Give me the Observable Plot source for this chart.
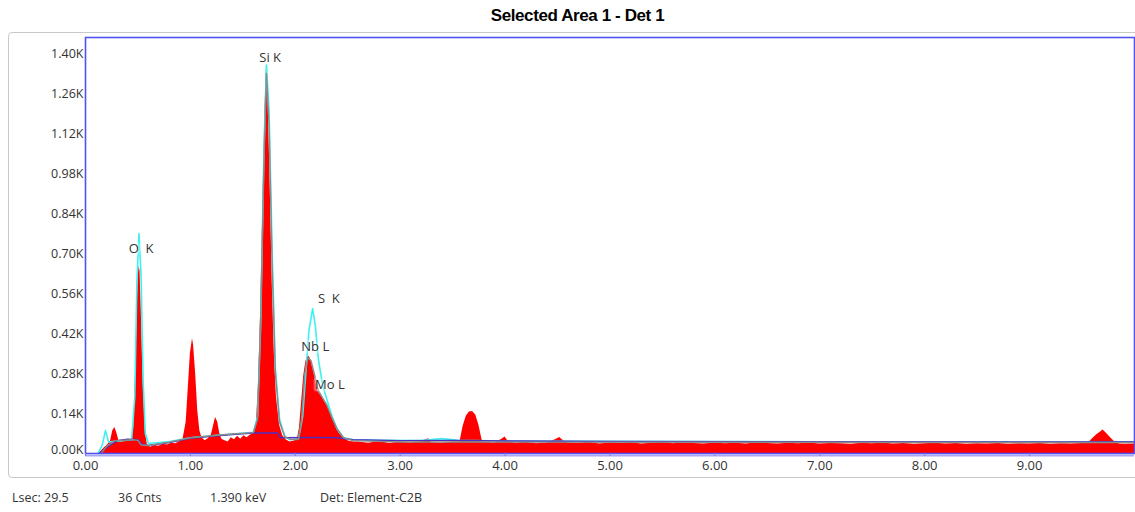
<!DOCTYPE html>
<html>
<head>
<meta charset="utf-8">
<script src="https://cdn.jsdelivr.net/npm/d3@7"></script>
<script src="https://cdn.jsdelivr.net/npm/@observablehq/plot@0.6"></script>
<style>
  html, body { margin: 0; padding: 0; background: #fff; width: 1135px; height: 512px; overflow: hidden; }
  #title { height: 30px; line-height: 31px; text-align: center; font-family: "Liberation Sans", Arial, sans-serif; font-weight: bold; font-size: 17px; letter-spacing: -0.4px; color: #000; padding-left: 20px; }
  #wrap { position: relative; width: 1135px; height: 452px; }
  #outer { position: absolute; left: 8px; top: 2px; width: 1140px; height: 446px; border: 1.5px solid #c8c8c8; border-radius: 4px; box-sizing: border-box; }
  #chart { position: absolute; left: 0; top: 0; }
  #footer { position: relative; height: 30px; font-family: "Open Sans", sans-serif; font-size: 12.5px; color: #333; }
  #footer span { position: absolute; top: 7px; }
</style>
</head>
<body>
<div id="title">Selected Area 1 - Det 1</div>
<div id="wrap"><div id="outer"></div><div id="chart"></div></div>
<div id="footer">
  <span style="left:12px">Lsec: 29.5</span>
  <span style="left:118px">36 Cnts</span>
  <span style="left:210px">1.390 keV</span>
  <span style="left:320px">Det: Element-C2B</span>
</div>
<script>
// ---- Data ----
const spectrumKeV = [
  0.00,0.12,0.15,0.18,0.21,0.24,0.26,0.28,0.30,0.32,0.35,0.38,0.41,0.44,0.46,0.48,0.50,0.51,0.52,0.53,0.55,0.57,0.59,
  0.62,0.66,0.70,0.74,0.78,0.82,0.86,0.90,0.93,0.96,0.98,1.00,1.02,1.03,1.05,1.07,1.09,1.11,1.14,1.17,1.20,1.22,1.24,
  1.26,1.28,1.30,1.33,1.36,1.39,1.42,1.45,1.48,1.51,1.54,1.57,1.60,1.63,1.65,1.67,1.69,1.71,1.725,1.74,1.76,1.78,1.80,
  1.82,1.85,1.88,1.91,1.95,1.99,2.02,2.04,2.06,2.08,2.10,2.12,2.14,2.16,2.18,2.20,2.22,2.24,2.26,2.28,2.30,2.33,2.36,
  2.39,2.42,2.45,2.48,2.52,2.56,
  2.6,2.7,2.8,2.9,3.0,3.1,3.2,3.27,3.3,3.4,3.5,3.57,3.6,3.63,3.66,3.69,3.72,3.75,3.78,3.8,3.9,3.97,4.0,4.03,4.1,4.2,
  4.3,4.4,4.48,4.52,4.56,4.6,4.7,4.8,4.9,5.0,5.1,5.2,5.3,5.4,5.5,5.6,5.7,5.8,5.9,6.0,6.1,6.2,6.3,6.4,6.5,6.6,6.7,6.8,
  6.9,7.0,7.1,7.2,7.3,7.4,7.5,7.6,7.7,7.8,7.9,8.0,8.1,8.2,8.3,8.4,8.5,8.6,8.7,8.8,8.9,9.0,9.1,9.2,9.3,9.4,9.5,9.56,
  9.6,9.64,9.68,9.70,9.73,9.77,9.82,9.86,9.9,10.0
];
const spectrumCounts = [
  0,0,8,20,30,45,80,91,70,42,40,46,44,50,90,300,600,655,640,520,250,80,30,
  22,28,25,32,30,36,34,42,50,110,230,350,402,380,280,150,80,55,45,52,65,95,126,
  110,70,50,45,40,55,48,60,50,62,55,64,70,110,250,500,850,1200,1345,1250,950,600,350,
  200,100,62,48,40,44,50,90,180,270,320,343,335,310,280,245,215,205,195,180,172,150,120,
  95,70,60,48,42,40,
  40,36,42,35,40,37,41,52,38,36,40,40,95,130,145,147,135,100,48,40,37,50,58,42,36,39,
  34,37,48,56,44,37,35,39,33,37,35,38,33,36,39,34,37,35,33,37,34,36,33,38,35,33,36,34,
  37,33,35,34,32,36,34,37,33,35,32,34,36,33,35,32,34,33,35,32,34,33,35,32,34,33,35,36,
  52,66,76,82,72,56,38,33,32,33
];
const fitKeV = [0.12,0.16,0.19,0.22,0.26,0.35,0.44,0.47,0.49,0.51,0.53,0.55,0.57,0.60,0.8,1.0,1.2,1.4,1.6,1.64,1.67,1.70,1.725,1.75,1.78,1.81,1.85,1.90,1.95,2.03,2.07,2.10,2.13,2.165,2.19,2.22,2.26,2.30,2.35,2.40,2.46,2.55,2.8,3.2,3.4,3.55,4.0,5.0,6.0,7.0,8.0,9.0,10.0];
const fitCounts = [0,30,80,40,42,45,48,200,600,770,620,250,70,35,42,55,62,68,74,130,450,1050,1360,1200,700,300,120,60,48,50,130,280,430,507,450,330,240,190,130,85,55,48,46,45,52,46,44,43,42,41,41,40,40];
const peakFitKeV = [0.15,0.2,0.28,0.45,0.5,0.53,0.6,0.8,1.0,1.2,1.4,1.6,1.64,1.67,1.70,1.725,1.75,1.78,1.81,1.85,1.9,1.95,2.03,2.06,2.09,2.12,2.15,2.18,2.22,2.26,2.30,2.35,2.40,2.46,2.55,3.0,3.55,3.8,10.0];
const peakFitCounts = [0,25,45,48,46,30,28,40,55,62,68,73,120,480,1000,1330,1150,650,280,110,58,50,50,120,280,335,325,280,220,195,170,125,85,55,45,40,40,40,38];
const bgKeV = [0.13,0.2,0.3,0.4,0.5,0.54,0.6,0.8,1.0,1.2,1.4,1.6,1.83,1.86,2.2,2.4,2.55,3.0,3.5,4.0,5.0,10.0];
const bgCounts = [0,20,45,50,48,32,28,38,53,60,66,72,72,55,56,55,48,45,46,44,42,40];
const peakLabels = ["Si K", "O\u00a0\u00a0K", "S\u00a0\u00a0K", "Nb L", "Mo L"];
const peakLabelKeV = [1.76, 0.53, 2.32, 2.19, 2.33];
const peakLabelCounts = [1386, 717, 542, 374, 241];
const xTicks = [0,1,2,3,4,5,6,7,8,9];
const yTicks = [0,140,280,420,560,700,840,980,1120,1260,1400];

const spectrum = spectrumKeV.map((k, i) => ({k, c: spectrumCounts[i]}));
const fit = fitKeV.map((k, i) => ({k, c: fitCounts[i]}));
const peakFit = peakFitKeV.map((k, i) => ({k, c: peakFitCounts[i]}));
const bg = bgKeV.map((k, i) => ({k, c: bgCounts[i]}));
const labels = peakLabels.map((t, i) => ({t, k: peakLabelKeV[i], c: peakLabelCounts[i]}));
const yFmt = d => (d / 1000).toFixed(2) + "K";

const chart = Plot.plot({
  width: 1135,
  height: 452,
  marginTop: 7,
  marginBottom: 29,
  marginLeft: 85,
  marginRight: 1,
  x: {domain: [0, 10]},
  y: {domain: [0, 1456]},
  style: {fontFamily: "'Open Sans', sans-serif", fontSize: "12.5px", color: "#333", background: "transparent"},
  marks: [
    Plot.areaY(spectrum, {x: "k", y: "c", fill: "#ff0000"}),
    Plot.lineY(fit, {x: "k", y: "c", stroke: "#3ff0f0", strokeWidth: 1.6}),
    Plot.lineY(bg, {x: "k", y: "c", stroke: "#4b2fc0", strokeWidth: 1.4}),
    Plot.lineY(peakFit, {x: "k", y: "c", stroke: "#8a8a8a", strokeWidth: 1.4}),
    Plot.text(labels, {x: "k", y: "c", text: "t", fill: "#333", fontSize: 13,
      stroke: "white", strokeOpacity: 0.35, strokeWidth: 5, paintOrder: "stroke"}),
    Plot.frame({stroke: "#5252f0", strokeWidth: 1.6}),
    Plot.ruleY([0], {stroke: "#a8a8f8", strokeWidth: 2, dy: 2}),
    Plot.axisY(yTicks.slice(1), {tickSize: 0, tickPadding: 2, fontSize: 12.5, tickFormat: yFmt, label: null}),
    Plot.axisY([0], {tickSize: 0, tickPadding: 2, fontSize: 12.5, dy: -4, tickFormat: yFmt, label: null}),
    Plot.axisX({ticks: xTicks, tickSize: 3, tickPadding: 4, fontSize: 13, stroke: "#7a7af0",
      tickFormat: d => d.toFixed(2), label: null})
  ]
});
document.getElementById("chart").appendChild(chart);
</script>
</body>
</html>
